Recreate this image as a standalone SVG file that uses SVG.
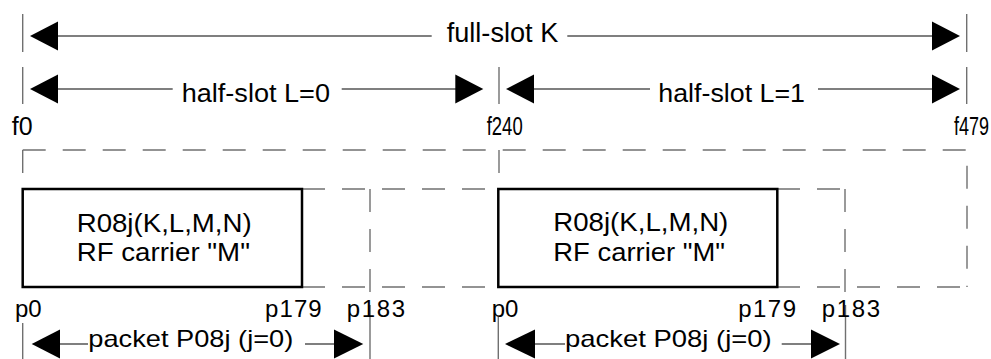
<svg xmlns="http://www.w3.org/2000/svg" width="991" height="359" viewBox="0 0 991 359">
<style>
  .bg{fill:#ffffff}
  .t{font-family:"Liberation Sans",Arial,sans-serif;font-size:25px;fill:#000}
  .big{font-size:27px}
  .mid{font-size:26px}
  .sm{font-size:24px}
  .tick{stroke:#707070;stroke-width:1.4;fill:none}
  .dash{stroke:#707070;stroke-width:1.4;fill:none;stroke-dasharray:23 17}
  .ln{stroke:#000;stroke-width:1.2;fill:none}
  .head{fill:#000;stroke:none}
  .box{fill:#fff;stroke:#000;stroke-width:2.5}
</style>
<rect class="bg" x="0" y="0" width="991" height="359"/>

<g id="frame">
  <path class="dash" d="M22.7,150 H967 V287"/>
  <path class="dash" d="M22.7,150 V189"/>
  <path class="dash" d="M499,150 V189"/>
  <path class="dash" d="M302,189 H499"/>
  <path class="dash" d="M777,189 H845"/>
  <path class="dash" d="M302,287 H499"/>
  <path class="dash" d="M777,287 H967"/>
  <path class="dash" d="M370,189 V300"/>
  <path class="dash" d="M845,189 V300"/>
</g>

<g id="ticks">
  <path class="tick" d="M22.7,14 V52 M22.7,67 V104"/>
  <path class="tick" d="M499,67 V104"/>
  <path class="tick" d="M966.7,14 V52 M966.7,67 V104"/>
  <path class="tick" d="M22.7,323 V359"/>
  <path class="tick" d="M370,305 V359"/>
  <path class="tick" d="M498.3,317 V359"/>
  <path class="tick" d="M845.5,305 V359"/>
</g>

<g id="labels">
  <text class="t" x="11.7" y="135">f0</text>
  <text class="t" transform="translate(486.7,135) scale(0.74,1)">f240</text>
  <text class="t" transform="translate(954,135) scale(0.72,1)">f479</text>
  <text class="t sm" x="15" y="316.7" textLength="26.7" lengthAdjust="spacing">p0</text>
  <text class="t sm" x="265" y="316.7" textLength="56.7" lengthAdjust="spacing">p179</text>
  <text class="t sm" x="346.7" y="316.7" textLength="58.3" lengthAdjust="spacing">p183</text>
  <text class="t sm" x="491.7" y="316.7" textLength="26.7" lengthAdjust="spacing">p0</text>
  <text class="t sm" x="738.3" y="316.7" textLength="57.7" lengthAdjust="spacing">p179</text>
  <text class="t sm" x="821.7" y="316.7" textLength="58.3" lengthAdjust="spacing">p183</text>
</g>

<g id="node-r08j-1">
  <rect class="box" x="22.7" y="189" width="279.3" height="98"/>
  <text class="t mid" x="76.7" y="231.5" textLength="175" lengthAdjust="spacingAndGlyphs">R08j(K,L,M,N)</text>
  <text class="t mid" x="76.7" y="260.5" textLength="173.3" lengthAdjust="spacingAndGlyphs">RF carrier "M"</text>
</g>

<g id="node-r08j-2">
  <rect class="box" x="498.3" y="189" width="279" height="98"/>
  <text class="t mid" x="553.3" y="230.5" textLength="175" lengthAdjust="spacingAndGlyphs">R08j(K,L,M,N)</text>
  <text class="t mid" x="553.3" y="261" textLength="171.7" lengthAdjust="spacingAndGlyphs">RF carrier "M"</text>
</g>

<g id="connectors">
  <!-- full-slot K -->
  <path class="ln" d="M40,36 H431.7 M567.3,36 H950"/>
  <polygon class="head" points="30,36 58,21.5 58,50.5"/>
  <polygon class="head" points="960,36 932,21.5 932,50.5"/>
  <text class="t big" x="446.7" y="42.3" textLength="111.6" lengthAdjust="spacingAndGlyphs">full-slot K</text>
  <!-- half-slot L=0 -->
  <path class="ln" d="M40,89 H172.7 M341.7,89 H473"/>
  <polygon class="head" points="30,89 58,74.5 58,103.5"/>
  <polygon class="head" points="483.3,89 455.3,74.5 455.3,103.5"/>
  <text class="t mid" x="181.7" y="101.7" textLength="148.3" lengthAdjust="spacingAndGlyphs">half-slot L=0</text>
  <!-- half-slot L=1 -->
  <path class="ln" d="M516,89 H650 M818,89 H950"/>
  <polygon class="head" points="506,89 534,74.5 534,103.5"/>
  <polygon class="head" points="960,89 932,74.5 932,103.5"/>
  <text class="t mid" x="658.3" y="102" textLength="146.7" lengthAdjust="spacingAndGlyphs">half-slot L=1</text>
  <!-- packet 1 -->
  <path class="ln" d="M40,344 H88 M305,344 H353"/>
  <polygon class="head" points="31.7,344 60,329.5 60,358.5"/>
  <polygon class="head" points="363.3,344 334,329.5 334,358.5"/>
  <text class="t sm" x="88.3" y="347" textLength="205" lengthAdjust="spacingAndGlyphs">packet P08j (j=0)</text>
  <!-- packet 2 -->
  <path class="ln" d="M515,344 H565 M781.7,344 H830"/>
  <polygon class="head" points="505,344 535,329.5 535,358.5"/>
  <polygon class="head" points="840,344 811,329.5 811,358.5"/>
  <text class="t sm" x="565" y="347" textLength="206.7" lengthAdjust="spacingAndGlyphs">packet P08j (j=0)</text>
</g>
</svg>
